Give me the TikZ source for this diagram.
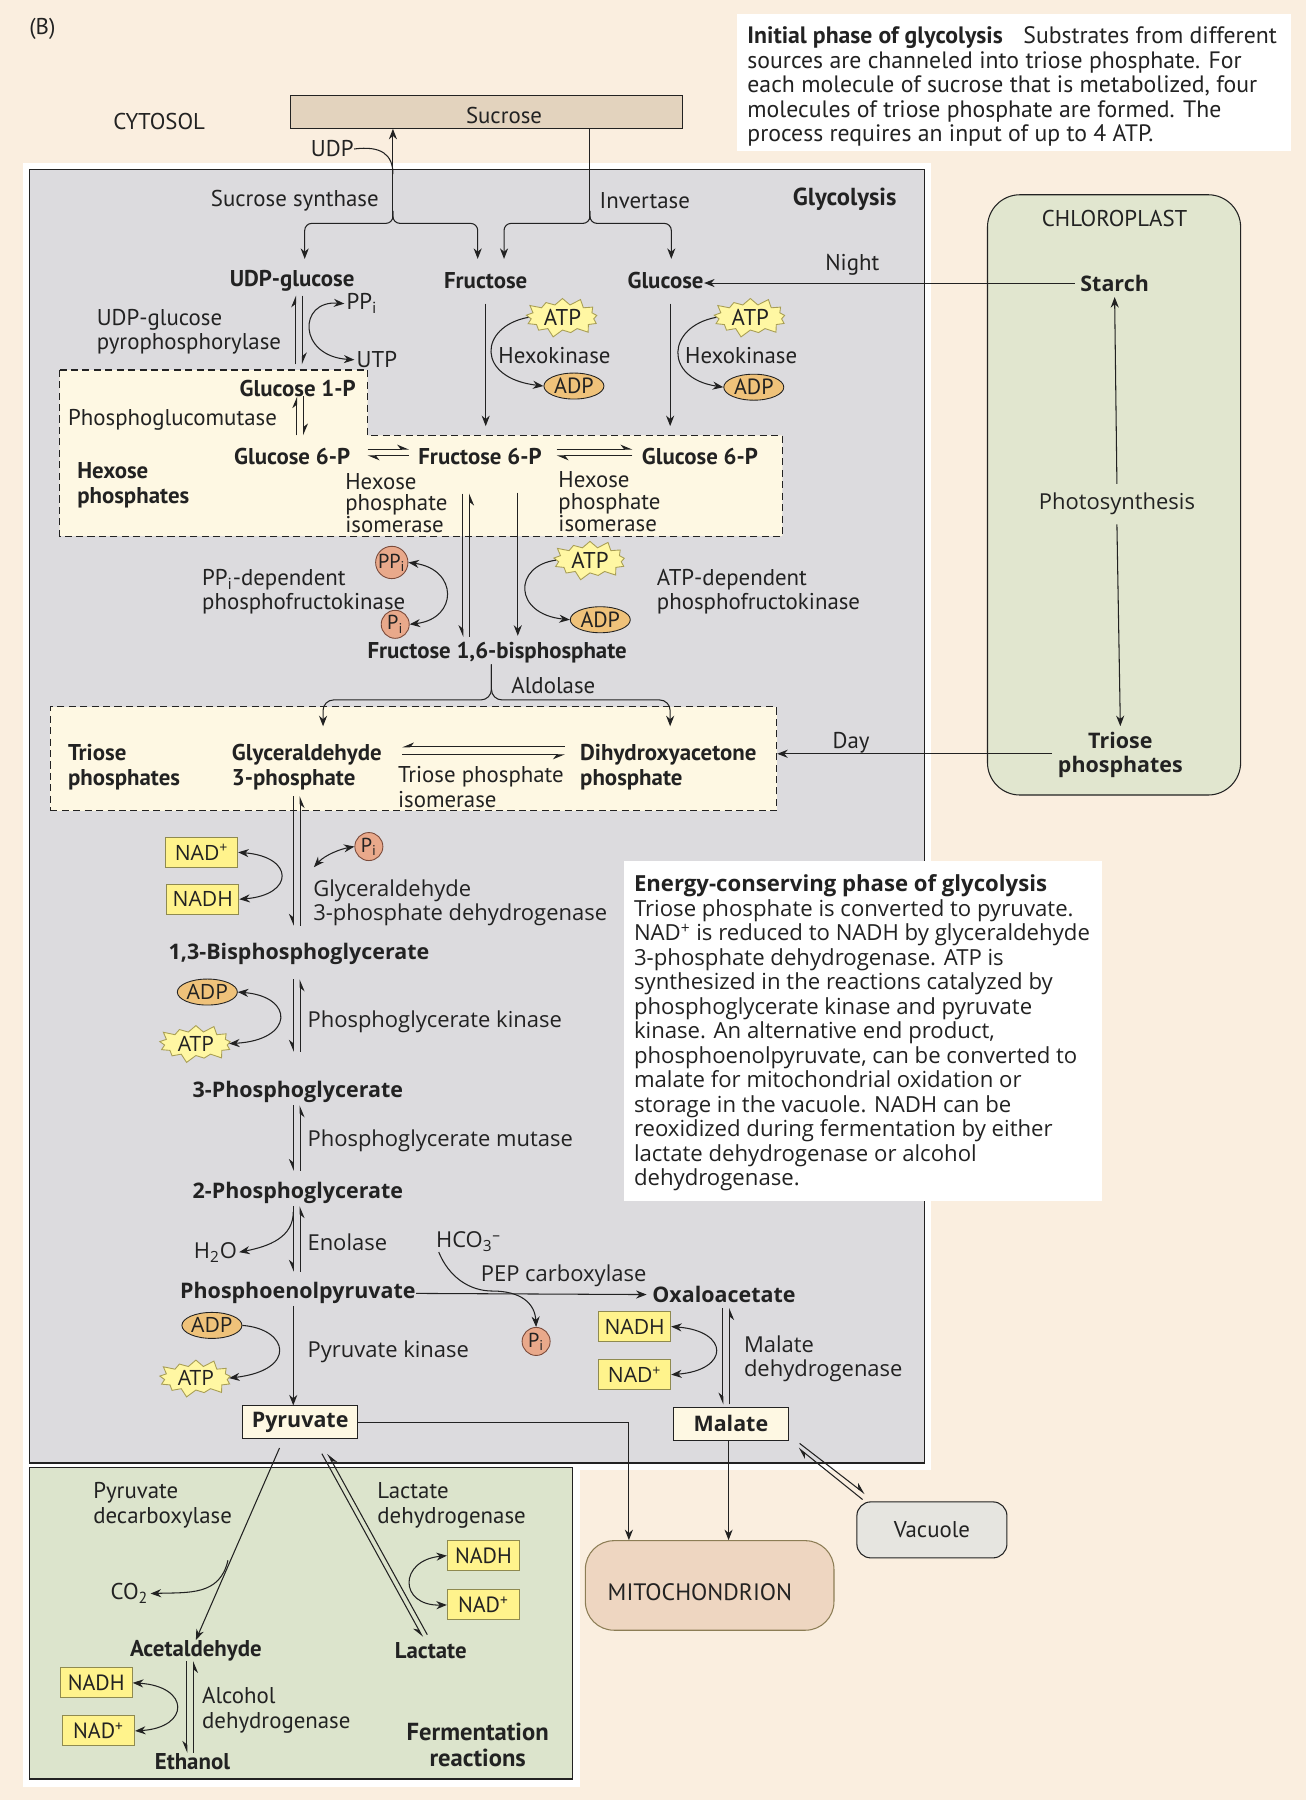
\documentclass[tikz,border=0pt]{standalone}
\usepackage{fontspec}
\setmainfont{PT Sans}
\newfontfamily\widefont{Open Sans}
\usetikzlibrary{arrows.meta, calc, shapes.geometric, shapes.symbols}

\definecolor{bgcream}{HTML}{FAEEDF}
\definecolor{glygrey}{HTML}{DCDBDE}
\definecolor{paleyel}{HTML}{FEF8E3}
\definecolor{fermgreen}{HTML}{DCE4CC}
\definecolor{chlorgreen}{HTML}{E1E6CF}
\definecolor{suctan}{HTML}{E3D3BE}
\definecolor{nadyel}{HTML}{FFF38C}
\definecolor{nadedge}{HTML}{8F8A50}
\definecolor{atpyel}{HTML}{FFF7A3}
\definecolor{atpedge}{HTML}{A89E55}
\definecolor{adporange}{HTML}{EFC27A}
\definecolor{pisalmon}{HTML}{E9A98B}
\definecolor{piedge}{HTML}{7A4A3A}
\definecolor{mitofill}{HTML}{EED6C1}
\definecolor{mitoedge}{HTML}{8C7D55}
\definecolor{vacgrey}{HTML}{E6E5E0}
\definecolor{ink}{HTML}{222222}

\tikzset{
  lbl/.style={font=\fontsize{13}{14}\selectfont, inner sep=0pt, align=left, yshift=-2pt},
  met/.style={font=\bfseries\fontsize{13}{14}\selectfont, inner sep=0pt, align=left, yshift=-2pt},
  wlbl/.style={font=\widefont\fontsize{12.5}{14}\selectfont, inner sep=0pt, align=left, yshift=-2pt},
  wmet/.style={font=\widefont\bfseries\fontsize{12.2}{14}\selectfont, inner sep=0pt, align=left, yshift=-2pt},
  wide/.style={font=\widefont\fontsize{12}{12}\selectfont},
  tip/.style={-{Stealth[length=6pt,width=4.6pt]}},
  both/.style={{Stealth[length=6pt,width=4.6pt]}-{Stealth[length=6pt,width=4.6pt]}},
  hl/.style={-{Stealth[harpoon,length=6pt,width=5pt]}},
  hr/.style={-{Stealth[harpoon,swap,length=6pt,width=5pt]}},
  dashbox/.style={dash pattern=on 4pt off 2.5pt, line width=0.6pt},
  atpburst/.style={starburst, starburst points=13, starburst point height=0.17cm,
    fill=atpyel, draw=atpedge, line width=0.5pt, inner sep=0.5pt,
    minimum width=1.6cm, minimum height=0.68cm, font=\fontsize{13}{13}\selectfont},
  adpoval/.style={ellipse, fill=adporange, draw=ink, line width=0.5pt, inner sep=0pt,
    minimum width=1.2cm, minimum height=0.52cm, font=\fontsize{12.5}{12.5}\selectfont},
  picirc/.style={circle, fill=pisalmon, draw=piedge, line width=0.5pt, inner sep=0pt,
    minimum size=0.56cm, font=\fontsize{11.5}{11.5}\selectfont},
  nadbox/.style={rectangle, fill=nadyel, draw=nadedge, line width=0.6pt, inner sep=0pt,
    minimum width=1.44cm, minimum height=0.6cm, font=\fontsize{12.5}{12.5}\selectfont},
  metbox/.style={rectangle, fill=paleyel, draw=ink, line width=0.6pt, inner sep=0pt,
    minimum width=2.29cm, minimum height=0.65cm, font=\widefont\bfseries\fontsize{12.2}{12.2}\selectfont},
}

\begin{document}
\begin{tikzpicture}[x=0.0229cm, y=-0.0229cm, line width=0.6pt, color=ink]
  \useasboundingbox (0,0) rectangle (1140,1571.3);

  % compartments
  \fill[bgcream] (0,0) rectangle (1140,1571.3);
  \fill[white] (20,142) rectangle (813,1283);
  \fill[white] (20,1275) rectangle (506,1560);
  \fill[white] (643,12) rectangle (1127,132);
  \filldraw[fill=glygrey, line width=0.8pt] (26,148) rectangle (807,1277);
  \filldraw[fill=fermgreen, line width=0.8pt] (26,1281) rectangle (500,1553);
  \filldraw[fill=chlorgreen, rounded corners=0.65cm] (862,170) rectangle (1083,694);
  \filldraw[fill=paleyel, dashbox] (52,323) -- (321,323) -- (321,380) -- (683,380)
    -- (683,468) -- (52,468) -- cycle;
  \node[draw, fill=paleyel, dashbox, minimum width=14.52cm, minimum height=2.08cm,
    inner sep=0pt] (triosebox) at (361,662.5) {};
  \fill[white] (545,752) rectangle (962,1048);

  % notes
  \node[lbl, font=\fontsize{13.5}{13.95}\selectfont, anchor=north west] (initnote) at (652,20)
    {\textbf{Initial phase of glycolysis}\hspace{0.6em} Substrates from different\\
     sources are channeled into triose phosphate. For\\
     each molecule of sucrose that is metabolized, four\\
     molecules of triose phosphate are formed. The\\
     process requires an input of up to 4 ATP.};
  \node[wlbl, font=\widefont\fontsize{12.6}{13.95}\selectfont, anchor=north west] (energynote) at (553,760)
    {\textbf{Energy-conserving phase of glycolysis}\\
     Triose phosphate is converted to pyruvate.\\
     NAD\textsuperscript{+} is reduced to NADH by glyceraldehyde\\
     3-phosphate dehydrogenase. ATP is\\
     synthesized in the reactions catalyzed by\\
     phosphoglycerate kinase and pyruvate\\
     kinase. An alternative end product,\\
     phosphoenolpyruvate, can be converted to\\
     malate for mitochondrial oxidation or\\
     storage in the vacuole. NADH can be\\
     reoxidized during fermentation by either\\
     lactate dehydrogenase or alcohol\\
     dehydrogenase.};

  % top labels
  \node[lbl] (panel) at (37,22) {(B)};
  \node[lbl] (cytosol) at (139,103) {CYTOSOL};
  \node[draw, fill=suctan, minimum width=7.83cm, minimum height=0.664cm, inner sep=0pt] (sucbox) at (424.5,97.5) {};
  \node[lbl] (suctext) at (440,97.5) {Sucrose};
  \node[lbl] (udp) at (290,127) {UDP};
  \node[lbl, anchor=east] (synthase) at (331,172) {Sucrose synthase};
  \node[lbl, anchor=west] (invertase) at (523,172) {Invertase};
  \node[met, font=\bfseries\fontsize{14}{15}\selectfont, anchor=east] (glyco) at (783,171) {Glycolysis};

  % hexoses
  \node[met] (udpglc) at (255,242) {UDP-glucose};
  \node[met] (fru) at (424,242) {Fructose};
  \node[met] (glc) at (581,242) {Glucose};
  \node[lbl] (night) at (744,228) {Night};
  \node[lbl] (chloro) at (973,188) {CHLOROPLAST};
  \node[wmet, inner sep=3pt] (starch) at (973,244) {Starch};
  \node[wlbl, inner sep=5pt] (photo) at (975,437) {Photosynthesis};
  \node[wmet, align=center, inner sep=3pt] (triosech) at (978,656) {Triose\\phosphates};
  \node[lbl] (day) at (743,645) {Day};

  \node[lbl, anchor=west] (ugpase) at (84,286.5) {UDP-glucose\\pyrophosphorylase};
  \node[lbl, inner sep=1pt] (ppi) at (316,262) {PP\textsubscript{i}};
  \node[lbl, inner sep=1pt] (utp) at (329,311) {UTP};
  \node[atpburst] (atpA) at (491,277) {ATP};
  \node[lbl] (hkA) at (484,307) {Hexokinase};
  \node[adpoval] (adpA) at (501,337) {ADP};
  \node[atpburst] (atpB) at (655,277) {ATP};
  \node[lbl] (hkB) at (647,307) {Hexokinase};
  \node[adpoval] (adpB) at (658,338) {ADP};

  \node[met, anchor=east] (g1p) at (311,336) {Glucose 1-P};
  \node[lbl, anchor=west] (pglm) at (59,363) {Phosphoglucomutase};
  \node[met, anchor=west] (hexlbl) at (67,420.5) {Hexose\\phosphates};
  \node[met] (g6p) at (255,395) {Glucose 6-P};
  \node[met] (f6p) at (419,395) {Fructose 6-P};
  \node[met] (g6pB) at (611,395) {Glucose 6-P};
  \node[lbl, font=\fontsize{13}{12.4}\selectfont, anchor=west] (hpiA) at (301,436) {Hexose\\phosphate\\isomerase};
  \node[lbl, font=\fontsize{13}{12.4}\selectfont, anchor=west] (hpiB) at (487,435) {Hexose\\phosphate\\isomerase};

  \node[picirc] (ppiC) at (342,491) {PP\textsubscript{i}};
  \node[picirc] (piC) at (345,545) {P\textsubscript{i}};
  \node[lbl, anchor=west] (pfp) at (176,513.5) {PP\textsubscript{i}-dependent\\phosphofructokinase};
  \node[atpburst] (atpC) at (515,489) {ATP};
  \node[adpoval] (adpC) at (524,541) {ADP};
  \node[lbl, anchor=west] (pfk) at (573,513.5) {ATP-dependent\\phosphofructokinase};
  \node[met] (f16bp) at (434,567) {Fructose 1,6-bisphosphate};
  \node[lbl, anchor=west] (aldolase) at (446,595) {Aldolase};

  % triose phosphates
  \node[met, anchor=west] (triolbl) at (59,666.5) {Triose\\phosphates};
  \node[met, anchor=west] (gap) at (202,666.5) {Glyceraldehyde\\3-phosphate};
  \node[met, anchor=west] (dhap) at (506,666.5) {Dihydroxyacetone\\phosphate};
  \node[lbl, anchor=west] (tpi) at (347,684) {Triose phosphate\\isomerase};

  % energy-conserving phase
  \node[nadbox, wide] (nadA) at (176,744) {NAD\textsuperscript{+}};
  \node[nadbox, wide] (nadhA) at (177,785) {NADH};
  \node[picirc] (piD) at (322,739) {P\textsubscript{i}};
  \node[wlbl, anchor=west] (gapdh) at (273,785) {Glyceraldehyde\\3-phosphate dehydrogenase};
  \node[wmet] (bpg) at (261,830) {1,3-Bisphosphoglycerate};
  \node[adpoval, wide] (adpD) at (181,866) {ADP};
  \node[atpburst, wide] (atpD) at (171,911) {ATP};
  \node[wlbl, anchor=west] (pgk) at (268,889) {Phosphoglycerate kinase};
  \node[wmet] (pga3) at (260,950) {3-Phosphoglycerate};
  \node[wlbl, anchor=west] (pgmut) at (268,993) {Phosphoglycerate mutase};
  \node[wmet] (pga2) at (260,1038) {2-Phosphoglycerate};
  \node[wlbl, anchor=west] (enolase) at (268,1081) {Enolase};
  \node[wlbl, inner sep=1pt] (water) at (188,1090) {H\textsubscript{2}O};
  \node[wmet] (pep) at (260,1126) {Phosphoenolpyruvate};
  \node[adpoval, wide] (adpE) at (185,1157) {ADP};
  \node[atpburst, wide] (atpE) at (171,1203) {ATP};
  \node[wlbl, anchor=west] (pk) at (268,1177) {Pyruvate kinase};
  \node[metbox] (pyr) at (262,1241.5) {Pyruvate};
  \node[wlbl] (hco) at (409,1081) {HCO\textsubscript{3}\textsuperscript{–}};
  \node[wlbl] (pepc) at (492,1111) {PEP carboxylase};
  \node[picirc] (piE) at (468,1171) {P\textsubscript{i}};
  \node[wmet, inner sep=3pt] (oaa) at (632,1127) {Oxaloacetate};
  \node[nadbox, wide] (nadhB) at (554,1158) {NADH};
  \node[nadbox, wide] (nadB) at (554,1200) {NAD\textsuperscript{+}};
  \node[wlbl, anchor=west] (mdh) at (649,1183) {Malate\\dehydrogenase};
  \node[metbox] (mal) at (638,1243) {Malate};

  \node[draw, fill=vacgrey, rounded corners=0.28cm, minimum width=3.0cm, minimum height=1.12cm,
    font=\fontsize{13}{14}\selectfont] (vac) at (813.5,1335.5) {Vacuole};
  \node[draw=mitoedge, fill=mitofill, rounded corners=0.57cm, minimum width=4.97cm,
    minimum height=1.79cm] (mito) at (619.5,1384) {};
  \node[lbl, font=\fontsize{13.5}{14}\selectfont] (mitotext) at (611,1387) {MITOCHONDRION};

  % fermentation
  \node[lbl, anchor=west] (pdc) at (81,1311) {Pyruvate\\decarboxylase};
  \node[lbl, anchor=west] (ldh) at (329,1311) {Lactate\\dehydrogenase};
  \node[lbl, inner sep=1pt] (co2) at (113,1388) {CO\textsubscript{2}};
  \node[nadbox] (nadhC) at (422,1358) {NADH};
  \node[nadbox] (nadC) at (422,1401) {NAD\textsuperscript{+}};
  \node[met] (acet) at (171,1438) {Acetaldehyde};
  \node[met] (lact) at (376,1438) {Lactate};
  \node[nadbox] (nadhD) at (84,1469) {NADH};
  \node[nadbox] (nadD) at (86,1511) {NAD\textsuperscript{+}};
  \node[lbl, anchor=west] (adh) at (176,1490) {Alcohol\\dehydrogenase};
  \node[met] (eth) at (168,1535) {Ethanol};
  \node[met, align=center, font=\bfseries\fontsize{14}{14.5}\selectfont] (fermlbl) at (417,1520) {Fermentation\\reactions};

  % sucrose cleavage
  \coordinate (ssfork) at (343,190);
  \coordinate (invfork) at (515,190);
  \draw[tip] (ssfork) -- (ssfork |- sucbox.south);
  \draw[tip, rounded corners=4pt] (343,184) |- (266,195) -- (266,226);
  \draw[tip, rounded corners=4pt] (343,184) |- (417,195) -- (417,226);
  \draw (udp.east) .. controls (333,127) and (343,135) .. (343,152);
  \draw (invfork) -- (invfork |- sucbox.south);
  \draw[tip, rounded corners=4pt] (515,184) |- (440,195) -- (440,226);
  \draw[tip, rounded corners=4pt] (515,184) |- (586,195) -- (586,226);

  % UDP-glucose to hexose phosphates
  \draw[hl] (258,318) -- (258,258);
  \draw[hl] (264,258) -- (264,318);
  \draw[both] (ppi.west) .. controls (260,262) and (260,311) .. (utp.west);
  \draw[hl] (259,380) -- (259,346);
  \draw[hl] (265,346) -- (265,380);

  % hexokinase
  \draw[tip] (424,265) -- (424,372);
  \draw[tip] (585,265) -- (585,372);
  \draw[tip] (atpA.west) .. controls (418,285) and (415,330) .. (adpA.west);
  \draw[tip] (atpB.west) .. controls (582,285) and (579,330) .. (adpB.west);

  % chloroplast export
  \draw[tip] (starch.west) -- (glc.east |- starch.west);
  \draw[tip] (photo.north) -- (starch.south);
  \draw[tip] (photo.south) -- (triosech.north);
  \draw[tip] (triosech.west |- 0,658) -- (triosebox.east |- 0,658);

  % hexose phosphate isomerase
  \draw[hl] (321,392) -- (357,392);
  \draw[hl] (357,398) -- (321,398);
  \draw[hl] (486,392) -- (552,392);
  \draw[hl] (552,398) -- (486,398);

  % phosphofructokinases
  \draw[hr] (404,431) -- (404,556);
  \draw[hr] (410,556) -- (410,431);
  \draw[tip] (452,430) -- (452,555);
  \draw[both] (ppiC.east) .. controls (400,497) and (400,540) .. (piC.east);
  \draw[tip] (atpC.west) .. controls (448,494) and (448,536) .. (adpC.west);

  % aldolase
  \draw[tip, rounded corners=6pt] (429,580) |- (282,611) -- (282,634);
  \draw[tip, rounded corners=6pt] (429,580) |- (585,611) -- (585,634);
  \draw[hr] (493,652) -- (351,652);
  \draw[hr] (351,659) -- (493,659);

  % GAPDH to enolase
  \draw[hr] (256,695) -- (256,808);
  \draw[hr] (262,808) -- (262,695);
  \draw[both] (nadA.east) .. controls (257,748) and (257,781) .. (nadhA.east);
  \coordinate (gapdhpi) at (274,757);
  \draw[both] (gapdhpi) .. controls (284,746) and (298,741) .. (piD.west);
  \draw[hr] (256,855) -- (256,918);
  \draw[hr] (262,918) -- (262,855);
  \draw[both] (adpD.east) .. controls (257,870) and (257,908) .. (atpD.east);
  \draw[hr] (256,965) -- (256,1022);
  \draw[hr] (262,1022) -- (262,965);
  \draw[hr] (256,1053) -- (256,1110);
  \draw[hr] (262,1110) -- (262,1053);
  \coordinate (enolwater) at (256,1058);
  \draw[tip] (enolwater) .. controls (256,1080) and (235,1088) .. (water.east);

  % pyruvate kinase
  \draw[tip] (256,1140) -- (pyr.north -| 256,0);
  \draw[tip] (adpE.east) .. controls (252,1160) and (260,1196) .. (atpE.east);

  % PEP carboxylase and malate
  \draw[tip] (pep.east) -- (oaa.west);
  \coordinate (hcostart) at (383,1093);
  \draw[tip] (hcostart) .. controls (392,1115) and (410,1127) .. (430,1127)
    .. controls (455,1127) and (467,1138) .. (piE.north);
  \draw[hr] (631,1142) -- (631,1226);
  \draw[hr] (637,1226) -- (637,1142);
  \draw[both] (nadhB.east) .. controls (637,1162) and (637,1196) .. (nadB.east);

  % to mitochondrion and vacuole
  \draw[tip] (pyr.east) -| (mito.north -| 549,0);
  \draw[tip] (mal.south -| 636,0) -- (mito.north -| 636,0);
  \draw[hl] (698,1260) -- (755,1304);
  \draw[hl] (753,1309) -- (697,1264);

  % fermentation
  \draw[tip] (244,1264) -- (acet.north);
  \coordinate (pdcco2) at (199,1362);
  \draw[tip] (pdcco2) .. controls (192,1393) and (165,1390) .. (co2.east);
  \draw[hr] (281,1269) -- (369,1429);
  \draw[hr] (373,1427) -- (286,1269);
  \draw[both] (nadhC.west) .. controls (348,1362) and (348,1402) .. (nadC.west);
  \draw[hr] (163,1450) -- (163,1530);
  \draw[hr] (169,1530) -- (169,1450);
  \draw[both] (nadhD.east) .. controls (166,1472) and (166,1508) .. (nadD.east);
\end{tikzpicture}
\end{document}
